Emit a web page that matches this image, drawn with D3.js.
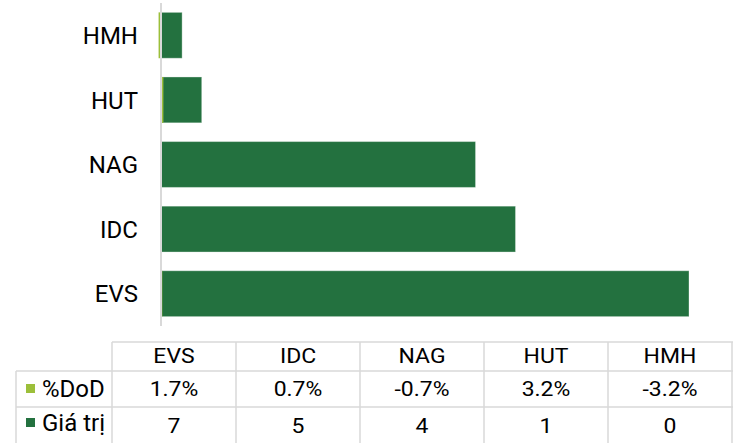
<!DOCTYPE html>
<html>
<head>
<meta charset="utf-8">
<script src="https://cdn.jsdelivr.net/npm/d3@7"></script>
<style>
  body { margin: 0; background: #fff; }
  text { font-family: Roboto, "Noto Sans", sans-serif; fill: #000; }
</style>
</head>
<body>
<div id="chart"></div>
<script>
// data
const categories = ["EVS", "IDC", "NAG", "HUT", "HMH"];
const dodValues = [0.017, 0.007, -0.007, 0.032, -0.032];
const valueValues = [7.0, 4.7, 4.17, 0.54, 0.28];
const seriesNames = ["%DoD", "Giá trị"];
const colors = ["#9cbf3a", "#23713f"];

var chart_width = 733;
var chart_height = 443;
var svg = d3.select('#chart')
    .append('svg')
    .attr('width', chart_width)
    .attr('height', chart_height);

const x_scale = d3.scaleLinear()
    .domain([0, 7])
    .range([161, 689]);

const y_scale = d3.scaleBand()
    .domain(categories.slice().reverse())
    .range([3, 326])
    .paddingInner(0.29)
    .paddingOuter(0.145);

// value bars
svg.selectAll('rect.val')
    .data(valueValues)
    .enter()
    .append('rect')
    .attr('class', 'val')
    .attr('x', x_scale(0))
    .attr('y', (d, i) => y_scale(categories[i]))
    .attr('width', d => x_scale(d) - x_scale(0))
    .attr('height', y_scale.bandwidth())
    .attr('fill', colors[1])
    .attr('stroke', 'rgba(255,255,255,0.35)')
    .attr('stroke-width', 1);

// %DoD bars (same axis, so they are tiny)
svg.selectAll('rect.dod')
    .data(dodValues)
    .enter()
    .append('rect')
    .attr('class', 'dod')
    .attr('x', d => x_scale(Math.min(0, d)))
    .attr('y', (d, i) => y_scale(categories[i]))
    .attr('width', d => Math.abs(x_scale(d) - x_scale(0)))
    .attr('height', y_scale.bandwidth())
    .attr('fill', colors[0]);

// category axis line
svg.append('line')
    .attr('x1', x_scale(0)).attr('x2', x_scale(0))
    .attr('y1', 3).attr('y2', 326)
    .attr('stroke', '#d9d9d9')
    .attr('stroke-width', 2);

// category labels
svg.selectAll('text.cat')
    .data(categories)
    .enter()
    .append('text')
    .attr('class', 'cat')
    .text(d => d)
    .attr('x', 138)
    .attr('y', d => y_scale(d) + y_scale.bandwidth() / 2)
    .attr('dy', '0.36em')
    .attr('text-anchor', 'end')
    .attr('font-size', 24)
    .attr('fill', '#111');

// data table
const colLeft = 112, rowY = [342, 371, 407, 443];
const colStep = (732 - colLeft) / categories.length;
const tbl = svg.append('g');
const gridColor = '#d9d9d9';

// horizontal lines
tbl.append('line').attr('x1', colLeft).attr('x2', 733).attr('y1', rowY[0]).attr('y2', rowY[0]);
tbl.append('line').attr('x1', 16).attr('x2', 733).attr('y1', rowY[1]).attr('y2', rowY[1]);
tbl.append('line').attr('x1', 16).attr('x2', 733).attr('y1', rowY[2]).attr('y2', rowY[2]);
// vertical lines
tbl.append('line').attr('x1', 16).attr('x2', 16).attr('y1', rowY[1]).attr('y2', rowY[3]);
d3.range(categories.length + 1).forEach(i => {
  const x = colLeft + i * colStep;
  tbl.append('line').attr('x1', x).attr('x2', x).attr('y1', rowY[0]).attr('y2', rowY[3]);
});
tbl.selectAll('line').attr('stroke', gridColor).attr('stroke-width', 1.5);

const fmtPct = d => d3.format('.1%')(d).replace('\u2212', '-');
const fmtVal = d3.format('.0f');
const rows = [
  {y: 363, cells: categories},
  {y: 396, cells: dodValues.map(fmtPct)},
  {y: 433, cells: valueValues.map(fmtVal)}
];
rows.forEach(r => {
  tbl.selectAll(null)
    .data(r.cells)
    .enter()
    .append('text')
    .text(d => d)
    .attr('transform', (d, i) => `translate(${colLeft + colStep * i + colStep / 2},${r.y}) scale(1.12,1)`)
    .attr('text-anchor', 'middle')
    .attr('font-size', 20.5);
});

// legend keys in row headers
seriesNames.forEach((name, i) => {
  const y = i === 0 ? 397 : 431;
  tbl.append('rect')
    .attr('x', 26).attr('y', y - 13)
    .attr('width', 9).attr('height', 9)
    .attr('fill', colors[i]);
  tbl.append('text')
    .text(name)
    .attr('x', 42)
    .attr('y', y)
    .attr('font-size', 24)
    .attr('fill', '#111');
});
</script>
</body>
</html>
